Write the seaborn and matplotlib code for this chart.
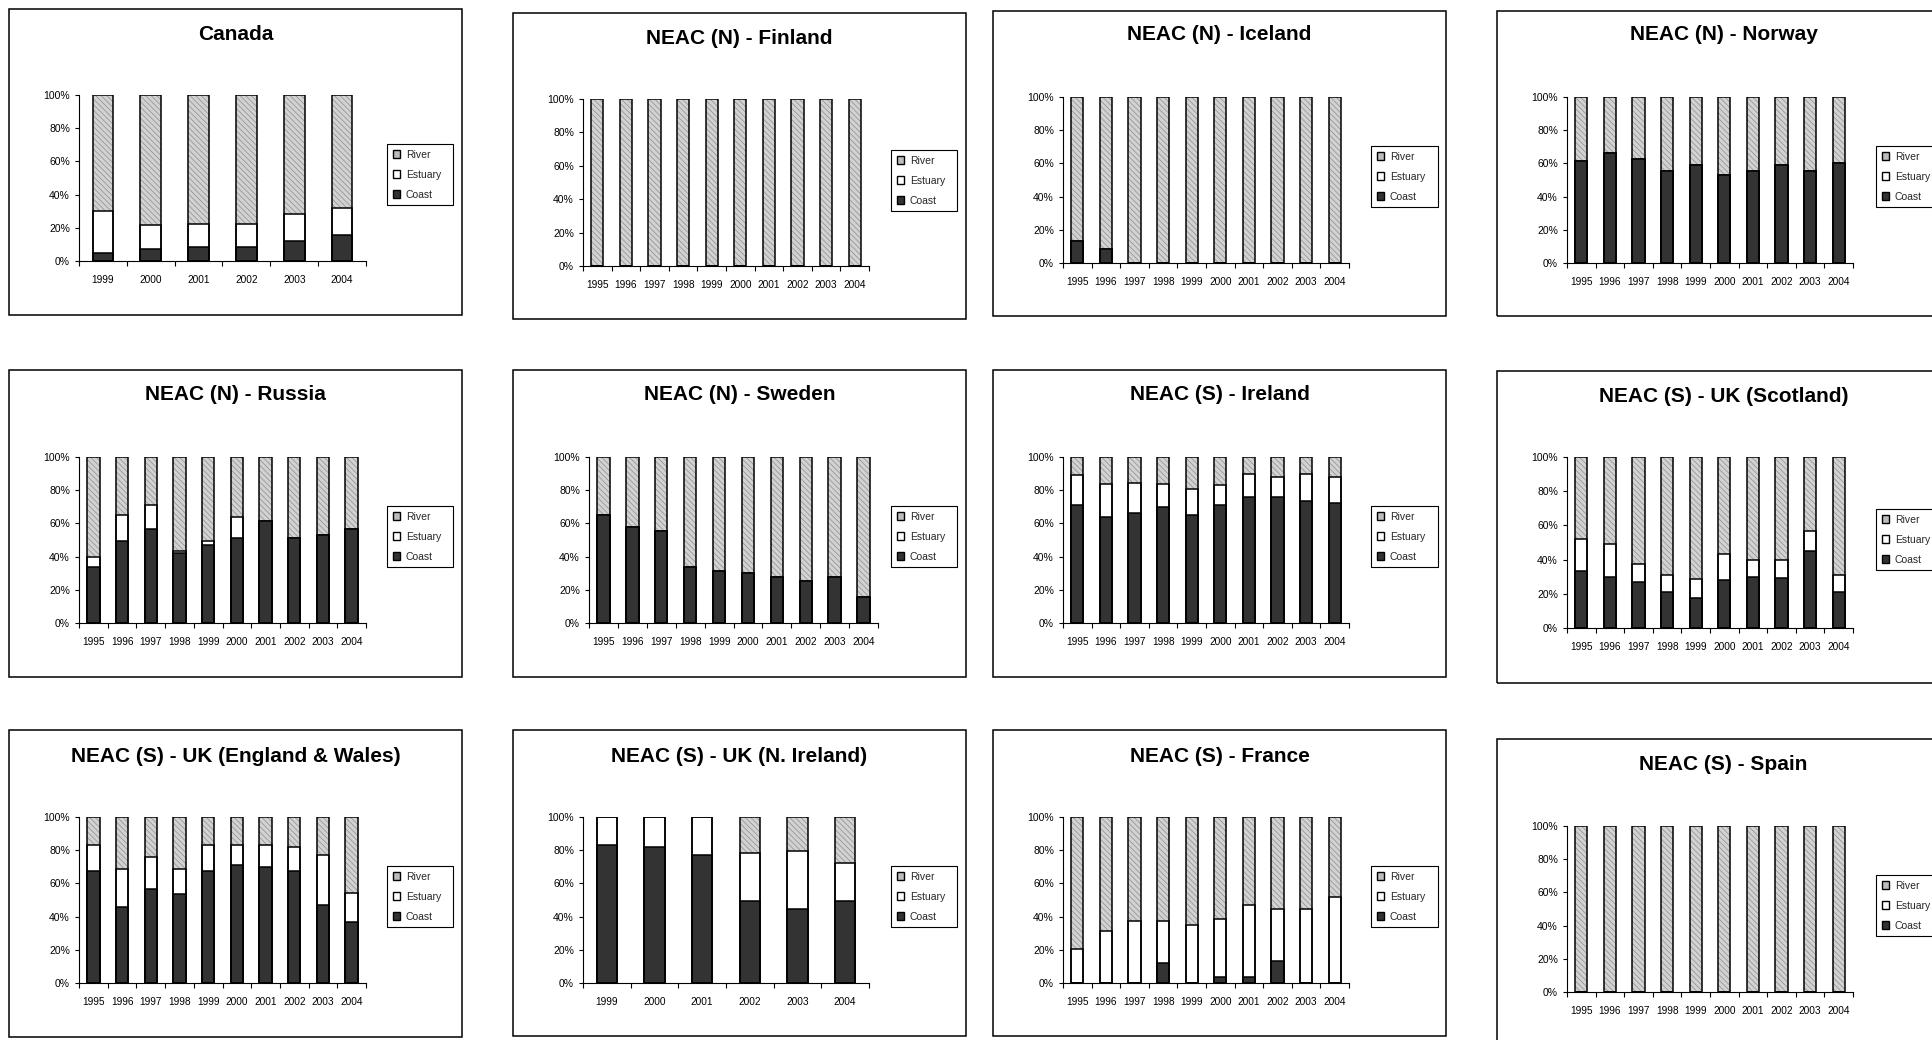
import numpy as np
import pandas as pd
import matplotlib
matplotlib.use("Agg")
import matplotlib.pyplot as plt
from matplotlib.patches import Rectangle, Patch
from matplotlib.ticker import FuncFormatter, FixedLocator
import seaborn as sns

# ---------------------------------------------------------------- data
years_1995 = ["1995", "1996", "1997", "1998", "1999", "2000", "2001", "2002", "2003", "2004"]
years_1999 = ["1999", "2000", "2001", "2002", "2003", "2004"]
habitats = ["River", "Estuary", "Coast"]

canada_coast = [5, 7.5, 8.5, 8.5, 12, 15.5]
canada_estuary = [25, 14, 14, 14, 16.5, 16.5]
canada_river = [70, 78.5, 77.5, 77.5, 71.5, 68]

finland_coast = [0, 0, 0, 0, 0, 0, 0, 0, 0, 0]
finland_estuary = [0, 0, 0, 0, 0, 0, 0, 0, 0, 0]
finland_river = [100, 100, 100, 100, 100, 100, 100, 100, 100, 100]

iceland_coast = [13.5, 8.5, 0, 0, 0, 0, 0, 0, 0, 0]
iceland_estuary = [0, 0, 0, 0, 0, 0, 0, 0, 0, 0]
iceland_river = [86.5, 91.5, 100, 100, 100, 100, 100, 100, 100, 100]

norway_coast = [61.5, 66, 62.5, 55.5, 59, 53, 55.5, 59, 55.5, 60]
norway_estuary = [0, 0, 0, 0, 0, 0, 0, 0, 0, 0]
norway_river = [38.5, 34, 37.5, 44.5, 41, 47, 44.5, 41, 44.5, 40]

russia_coast = [34, 49.5, 56.5, 42, 47, 51.5, 61.5, 51, 53, 56.5]
russia_estuary = [6, 15.5, 14.5, 1.5, 2.5, 12.5, 0, 0, 0, 0]
russia_river = [60, 35, 29, 56.5, 50.5, 36, 38.5, 49, 47, 43.5]

sweden_coast = [65, 58, 55.5, 34, 31.5, 30, 28, 25.5, 28, 15.5]
sweden_estuary = [0, 0, 0, 0, 0, 0, 0, 0, 0, 0]
sweden_river = [35, 42, 44.5, 66, 68.5, 70, 72, 74.5, 72, 84.5]

ireland_coast = [71, 64, 66.5, 70, 65, 71, 76, 76, 73.5, 72.5]
ireland_estuary = [18, 20, 18, 14, 15.5, 12, 14, 12, 16.5, 15.5]
ireland_river = [11, 16, 15.5, 16, 19.5, 17, 10, 12, 10, 12]

scotland_coast = [33.5, 30, 27, 21, 17.5, 28, 30, 29, 45, 21]
scotland_estuary = [18.5, 19, 10.5, 10, 11, 15, 9.5, 10.5, 11.5, 10]
scotland_river = [48, 51, 62.5, 69, 71.5, 57, 60.5, 60.5, 43.5, 69]

engwales_coast = [67.5, 46, 56.5, 53.5, 67.5, 71, 70, 67.5, 47, 36.5]
engwales_estuary = [15.5, 22.5, 19.5, 15, 15.5, 12, 13, 14.5, 30, 18]
engwales_river = [17, 31.5, 24, 31.5, 17, 17, 17, 18, 23, 45.5]

nireland_coast = [83, 82, 77, 49.5, 44.5, 49.5]
nireland_estuary = [17, 18, 23, 29, 35, 23]
nireland_river = [0, 0, 0, 21.5, 20.5, 27.5]

france_coast = [0, 0, 0, 12, 0, 3.5, 3.5, 13, 0, 0]
france_estuary = [20.5, 31.5, 37.5, 25.5, 35, 35, 43.5, 31.5, 44.5, 52]
france_river = [79.5, 68.5, 62.5, 62.5, 65, 61.5, 53, 55.5, 55.5, 48]

spain_coast = [0, 0, 0, 0, 0, 0, 0, 0, 0, 0]
spain_estuary = [0, 0, 0, 0, 0, 0, 0, 0, 0, 0]
spain_river = [100, 100, 100, 100, 100, 100, 100, 100, 100, 100]

panels = [
    ("Canada", years_1999, canada_coast, canada_estuary, canada_river),
    ("NEAC (N) - Finland", years_1995, finland_coast, finland_estuary, finland_river),
    ("NEAC (N) - Iceland", years_1995, iceland_coast, iceland_estuary, iceland_river),
    ("NEAC (N) - Norway", years_1995, norway_coast, norway_estuary, norway_river),
    ("NEAC (N) - Russia", years_1995, russia_coast, russia_estuary, russia_river),
    ("NEAC (N) - Sweden", years_1995, sweden_coast, sweden_estuary, sweden_river),
    ("NEAC (S) - Ireland", years_1995, ireland_coast, ireland_estuary, ireland_river),
    ("NEAC (S) - UK (Scotland)", years_1995, scotland_coast, scotland_estuary, scotland_river),
    ("NEAC (S) - UK (England & Wales)", years_1995, engwales_coast, engwales_estuary, engwales_river),
    ("NEAC (S) - UK (N. Ireland)", years_1999, nireland_coast, nireland_estuary, nireland_river),
    ("NEAC (S) - France", years_1995, france_coast, france_estuary, france_river),
    ("NEAC (S) - Spain", years_1995, spain_coast, spain_estuary, spain_river),
]

# ---------------------------------------------------------------- layout (pixels)
W, H = 1932, 1040
frames = [(9, 9, 462, 315), (513, 13, 966, 319), (993, 11, 1446, 316), (1497, 11, 1950, 316),
          (9, 370, 462, 677), (513, 370, 966, 677), (993, 370, 1446, 677), (1497, 371, 1950, 683),
          (9, 730, 462, 1037), (513, 730, 966, 1036), (993, 730, 1446, 1036), (1497, 739, 1950, 1045)]
plot_boxes = [(79, 95, 366, 261), (583, 99, 869, 266), (1063, 97, 1349, 263), (1567, 97, 1853, 263),
              (79, 457, 366, 623), (589, 457, 878, 623), (1063, 457, 1349, 623), (1567, 457, 1853, 628),
              (79, 817, 366, 983), (583, 817, 869, 983), (1063, 817, 1349, 983), (1567, 826, 1853, 992)]
legend_boxes = [(387, 144, 453, 211), (891, 150, 957, 215), (1371, 146, 1438, 213), (1876, 146, 1943, 213),
                (387, 506, 453, 573), (891, 506, 957, 573), (1371, 506, 1438, 573), (1876, 509, 1943, 575),
                (387, 866, 453, 933), (891, 866, 957, 933), (1371, 866, 1438, 933), (1876, 875, 1943, 942)]
title_y = [34, 38, 35, 35, 395, 395, 395, 397, 757, 757, 757, 764]

RIVER_FACE = "#d2d2d2"
RIVER_HATCH = "#8c8c8c"
COAST = "#333333"
EDGE_LW = 1.1

sns.set_style("ticks")
plt.rcParams["font.family"] = ["Liberation Sans", "DejaVu Sans"]
plt.rcParams["hatch.linewidth"] = 0.5


def fig_rect(box):
    x0, y0, x1, y1 = box
    return [x0 / W, 1 - y1 / H, (x1 - x0) / W, (y1 - y0) / H]


def draw_panel(ax, years, coast, estuary, river):
    df = pd.DataFrame({"year": years, "Coast": coast, "Estuary": estuary, "River": river})
    total = df[["Coast", "Estuary", "River"]].sum(axis=1)
    df["coast_top"] = df["Coast"] / total * 100
    df["estuary_top"] = (df["Coast"] + df["Estuary"]) / total * 100
    df["river_top"] = (df["Coast"] + df["Estuary"] + df["River"]) / total * 100
    n = len(years)
    width = 0.43
    common = dict(data=df, x="year", order=years, width=width, saturation=1,
                  errorbar=None, ax=ax)
    # hatched river fill spanning the whole column
    sns.barplot(y="river_top", color=RIVER_FACE, edgecolor=RIVER_HATCH, linewidth=0,
                hatch="\\\\\\\\\\\\", **common)
    # estuary (white) and coast (dark) stacked underneath
    sns.barplot(y="estuary_top", color="white", edgecolor="black", linewidth=EDGE_LW, **common)
    sns.barplot(y="coast_top", color=COAST, edgecolor="black", linewidth=EDGE_LW, **common)
    # outline of each full column
    sns.barplot(y="river_top", color="black", fill=False, linewidth=EDGE_LW, **common)

    ax.set_xlim(-0.5, n - 0.5)
    ax.set_ylim(0, 100)
    ax.set_xlabel("")
    ax.set_ylabel("")
    ax.set_yticks(np.arange(0, 101, 20))
    ax.yaxis.set_major_formatter(FuncFormatter(lambda v, p: f"{v:.0f}%"))
    ax.xaxis.set_minor_locator(FixedLocator(np.arange(-0.5, n, 1.0)))
    ax.tick_params(axis="x", which="major", length=0, pad=10,
                   labelsize=7.3, colors="black")
    ax.tick_params(axis="x", which="minor", length=3.6, width=0.8, direction="out", color="black")
    ax.tick_params(axis="y", which="major", length=2.9, width=0.8, pad=3.6,
                   labelsize=7.5, colors="black")
    for side in ("top", "right"):
        ax.spines[side].set_visible(False)
    for side in ("left", "bottom"):
        ax.spines[side].set_color("black")
        ax.spines[side].set_linewidth(0.8)
    ax.set_facecolor("none")
    ax.grid(False)


fig = plt.figure(figsize=(W / 100, H / 100), dpi=100)
fig.patch.set_facecolor("white")

legend_handles = [
    Patch(facecolor="#bdbdbd", edgecolor="black", linewidth=1.0, label="River"),
    Patch(facecolor="white", edgecolor="black", linewidth=1.0, label="Estuary"),
    Patch(facecolor=COAST, edgecolor="black", linewidth=1.0, label="Coast"),
]

for i, (title, years, coast, estuary, river) in enumerate(panels):
    fx0, fy0, fx1, fy1 = frames[i]
    fig.add_artist(Rectangle((fx0 / W, 1 - fy1 / H), (fx1 - fx0) / W, (fy1 - fy0) / H,
                             transform=fig.transFigure, fill=False, edgecolor="black",
                             linewidth=1.1, zorder=0))
    fig.text((fx0 + fx1) / 2 / W, 1 - title_y[i] / H, title, ha="center", va="center",
             fontsize=15, fontweight="bold", color="black")

    ax = fig.add_axes(fig_rect(plot_boxes[i]))
    draw_panel(ax, years, coast, estuary, river)

    lx0, ly0, lx1, ly1 = legend_boxes[i]
    leg = ax.legend(handles=legend_handles, loc="upper left",
                    bbox_to_anchor=(lx0 / W, 1 - ly1 / H, (lx1 - lx0) / W, (ly1 - ly0) / H),
                    bbox_transform=fig.transFigure, mode="expand", borderaxespad=0,
                    fontsize=7.5, handlelength=0.7, handleheight=0.7, handletextpad=0.55,
                    labelspacing=0.95, borderpad=0.55, fancybox=False, framealpha=1,
                    edgecolor="black")
    leg.get_frame().set_linewidth(0.8)

fig.savefig("out.png", dpi=100, facecolor="white")
